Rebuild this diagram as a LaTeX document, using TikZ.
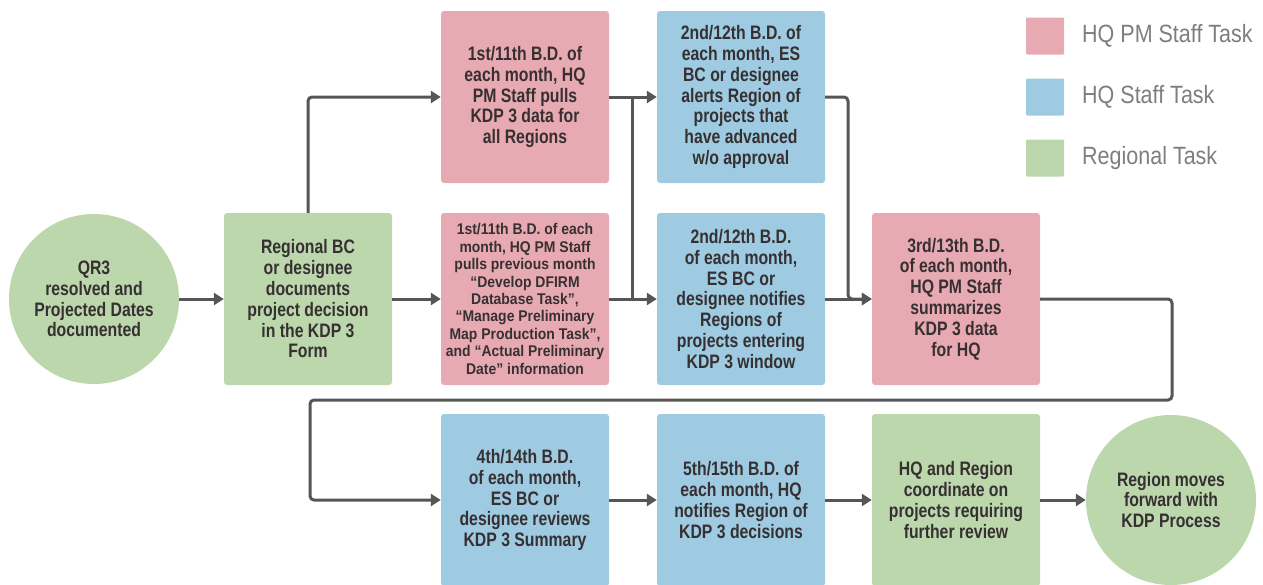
\documentclass[tikz,border=0pt]{standalone}
\usepackage{fontspec}
\setmainfont{Liberation Sans}[FakeStretch=0.81]
\newfontfamily\smallfam{Liberation Sans}[FakeStretch=0.9]
\newfontfamily\legendfam{Liberation Sans}[FakeStretch=0.86]
\usetikzlibrary{arrows.meta,calc}
\definecolor{pm}{HTML}{E8AAB2}
\definecolor{hq}{HTML}{9ECBE1}
\definecolor{rg}{HTML}{BCD7AB}
\definecolor{ln}{HTML}{565656}
\definecolor{txt}{HTML}{363032}
\definecolor{lg}{HTML}{7E7E7E}
\newcommand{\boxfont}{\bfseries\fontsize{19.5}{20.8}\selectfont}
\newcommand{\smallboxfont}{\smallfam\bfseries\fontsize{15.5}{17.4}\selectfont}
\newcommand{\legfont}{\legendfam\fontsize{25}{28}\selectfont}
\begin{document}
\begin{tikzpicture}[x=1pt,y=-1pt,
  box/.style={rectangle,rounded corners=3pt,minimum width=168pt,minimum height=172pt,inner sep=0pt,align=center,text=txt,font=\boxfont},
  circ/.style={circle,minimum size=170pt,inner sep=0pt,align=center,text=txt,font=\boxfont},
  conn/.style={draw=ln,line width=3pt,-{Triangle[length=10pt,width=12pt]}},
  plainline/.style={draw=ln,line width=3pt},
  lsq/.style={rectangle,rounded corners=1pt,minimum width=38pt,minimum height=37pt,inner sep=0pt},
  ltext/.style={anchor=west,inner sep=0pt,text=lg,font=\legfont}]
\useasboundingbox (0,0) rectangle (1263,584);
% nodes
\node[circ,fill=rg] (qr3) at (94,299) {QR3\\resolved and\\Projected Dates\\documented};
\node[box,fill=rg] (reg) at (308,299) {Regional BC\\or designee\\documents\\project decision\\in the KDP 3\\Form};
\node[box,fill=pm] (p1) at (525,97) {1st/11th B.D. of\\each month, HQ\\PM Staff pulls\\KDP 3 data for\\all Regions};
\node[box,fill=pm,font=\smallboxfont] (p2) at (525,299) {1st/11th B.D. of each\\month, HQ PM Staff\\pulls previous month\\“Develop DFIRM\\Database Task”,\\“Manage Preliminary\\Map Production Task”,\\and “Actual Preliminary\\Date” information};
\node[box,fill=hq] (b1) at (741,97) {2nd/12th B.D. of\\each month, ES\\BC or designee\\alerts Region of\\projects that\\have advanced\\w/o approval};
\node[box,fill=hq] (b2) at (741,299) {2nd/12th B.D.\\of each month,\\ES BC or\\designee notifies\\Regions of\\projects entering\\KDP 3 window};
\node[box,fill=pm] (p3) at (956,299) {3rd/13th B.D.\\of each month,\\HQ PM Staff\\summarizes\\KDP 3 data\\for HQ};
\node[box,fill=hq] (b4) at (525,500) {4th/14th B.D.\\of each month,\\ES BC or\\designee reviews\\KDP 3 Summary};
\node[box,fill=hq] (b5) at (741,500) {5th/15th B.D. of\\each month, HQ\\notifies Region of\\KDP 3 decisions};
\node[box,fill=rg] (g6) at (956,500) {HQ and Region\\coordinate on\\projects requiring\\further review};
\node[circ,fill=rg] (endc) at (1171,500) {Region moves\\forward with\\KDP Process};
% legend
\node[lsq,fill=pm] (l1) at (1045,36) {};
\node[lsq,fill=hq] (l2) at (1045,97) {};
\node[lsq,fill=rg] (l3) at (1045,158) {};
\node[ltext] (t1) at (1082,36) {HQ PM Staff Task};
\node[ltext] (t2) at (1082,97) {HQ Staff Task};
\node[ltext] (t3) at (1082,158) {Regional Task};
% junction coordinates
\coordinate (j1) at (632,97);
\coordinate (j2) at (848,97);
\coordinate (r2) at (1172,400);
\coordinate (r3) at (310,400);
% connectors
\draw[conn] (qr3.east) -- (reg.west);
\draw[conn,rounded corners=4pt] (reg.north) |- (p1.west);
\draw[conn] (reg.east) -- (p2.west);
\draw[conn] (p1.east) -- (b1.west);
\draw[conn] (p2.east) -- (b2.west);
\draw[plainline] (j1) -- (j1 |- p2.east);
\draw[conn,rounded corners=4pt] (b1.east) -- (j2) -- (j2 |- p3.west) -- (p3.west);
\draw[conn] (b2.east) -- (p3.west);
\draw[conn,rounded corners=4pt] (p3.east) -| (r2) -- (r3) |- (b4.west);
\draw[conn] (b4.east) -- (b5.west);
\draw[conn] (b5.east) -- (g6.west);
\draw[conn] (g6.east) -- (endc.west);
\end{tikzpicture}
\end{document}
